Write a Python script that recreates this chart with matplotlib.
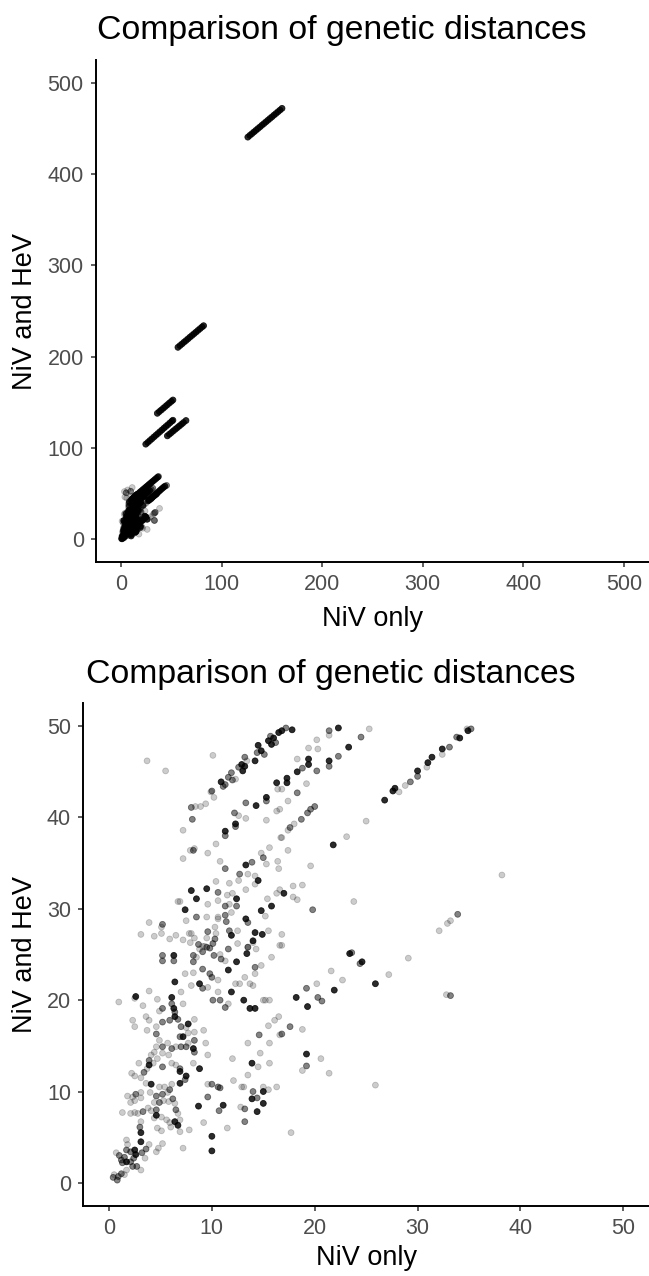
import numpy as np
import matplotlib
matplotlib.use('Agg')
import matplotlib.pyplot as plt

# (NiV only, NiV and HeV, number of overlapping pairs)
upper_left = [
    (3.7, 46.2, 1), (5.5, 45.1, 1), (10.1, 46.8, 1),
    (10.9, 43.9, 8), (11.1, 43.4, 3), (11.3, 43.6, 3), (11.6, 44.4, 3), (11.9, 44.9, 3), (12.0, 44.1, 3),
    (12.3, 44.2, 1), (12.6, 45.5, 3), (12.9, 45.8, 8), (13.0, 45.1, 8), (13.2, 45.6, 8), (13.2, 46.6, 3),
    (13.4, 46.2, 1), (14.2, 46.2, 8), (14.4, 47.1, 3), (14.5, 47.9, 8), (14.8, 47.3, 8), (15.1, 46.9, 3),
    (15.5, 48.4, 8), (15.7, 48.9, 3), (15.8, 48.0, 8), (16.0, 48.7, 8), (16.2, 48.2, 3), (16.5, 49.3, 8),
    (16.8, 49.5, 8), (17.2, 49.8, 3), (17.8, 49.6, 8),
    (10.0, 42.9, 3), (9.9, 42.8, 1), (10.2, 42.2, 1), (8.0, 41.1, 3), (8.4, 41.2, 1), (8.9, 41.2, 1),
    (9.4, 41.5, 1), (8.1, 39.8, 3), (7.2, 38.6, 1), (8.2, 36.4, 3), (8.3, 36.6, 1), (7.2, 35.5, 1),
]

band_b = [
    (16.3, 43.8, 8), (16.4, 43.1, 1), (15.3, 42.2, 8), (15.3, 41.8, 3), (14.3, 41.3, 8), (13.3, 41.6, 3),
    (12.2, 40.5, 3), (12.6, 40.2, 1), (13.3, 39.9, 1), (15.3, 39.7, 1), (16.3, 40.7, 1), (16.6, 40.9, 1),
    (12.3, 39.3, 8), (12.3, 39.0, 3), (11.3, 38.5, 8), (11.3, 38.0, 3), (16.7, 37.8, 1),
    (21.4, 49.5, 3), (21.4, 49.0, 1), (22.3, 49.8, 8), (25.3, 49.7, 1), (20.2, 48.5, 1), (20.3, 47.5, 1),
    (19.4, 47.6, 1), (19.4, 46.4, 8), (19.4, 45.8, 8), (18.3, 46.4, 1), (18.3, 45.0, 8), (18.8, 45.4, 3),
    (17.3, 44.3, 8), (17.3, 43.8, 8), (16.8, 43.1, 1), (17.4, 41.8, 1), (18.3, 42.7, 3), (19.2, 43.7, 1),
    (20.2, 45.1, 3), (21.4, 46.2, 8), (21.4, 45.6, 3), (22.3, 46.7, 3), (23.3, 47.7, 8), (24.5, 48.8, 3),
]

band_c = [
    (20.0, 41.2, 3), (19.6, 40.9, 3), (19.3, 40.5, 3), (18.7, 39.8, 3), (18.0, 39.3, 1), (17.6, 38.9, 3),
    (17.4, 38.6, 1), (16.8, 37.8, 1), (17.4, 36.4, 1), (21.8, 37.0, 8), (23.1, 37.9, 1), (25.0, 39.6, 1),
    (19.6, 34.7, 1), (17.9, 32.5, 1), (18.8, 32.6, 1), (17.0, 31.7, 8), (17.9, 31.3, 1), (18.3, 31.0, 1),
    (19.8, 29.9, 3), (23.8, 30.8, 1), (16.8, 26.0, 1),
]

far_band = [
    (26.8, 41.9, 8), (27.6, 42.9, 8), (27.8, 43.2, 8), (28.2, 42.8, 1), (28.8, 43.5, 1), (29.3, 43.9, 3),
    (30.0, 45.1, 8), (30.0, 44.5, 3), (30.9, 45.5, 1), (31.0, 46.0, 8), (31.4, 46.6, 8), (32.4, 47.5, 8),
    (32.4, 46.9, 1), (33.1, 47.7, 3), (33.8, 48.8, 3), (34.1, 48.7, 8), (34.9, 49.5, 8), (35.2, 49.7, 3),
    (34.8, 49.7, 1),
    (38.2, 33.7, 1), (32.1, 27.6, 1), (32.9, 28.4, 1), (33.2, 28.7, 1), (33.9, 29.4, 3),
]

right_mid = [
    (23.4, 25.1, 8), (23.6, 25.2, 3), (24.6, 24.2, 8), (24.4, 24.0, 3), (29.1, 24.6, 1), (21.6, 23.2, 1),
    (22.7, 22.2, 1), (20.2, 21.8, 1), (19.2, 21.3, 3), (18.2, 20.3, 8), (20.3, 20.3, 3), (20.7, 19.9, 3),
    (19.3, 19.3, 8), (21.9, 21.1, 8), (25.9, 21.8, 8), (27.2, 22.8, 1), (32.8, 20.6, 1), (33.2, 20.5, 3),
    (17.6, 17.1, 3), (18.8, 16.8, 1), (16.8, 16.3, 3), (19.2, 14.1, 8), (20.6, 13.6, 1), (19.2, 12.8, 3),
    (18.8, 12.3, 1), (21.4, 12.0, 1), (25.9, 10.7, 1), (17.7, 5.5, 1),
]

middle = [
    (10.4, 37.1, 1), (7.9, 36.4, 1), (9.6, 36.1, 1), (10.8, 35.2, 1), (11.3, 34.4, 3), (13.3, 34.8, 8),
    (13.9, 35.1, 3), (15.0, 35.6, 3), (15.6, 36.7, 1), (14.8, 36.1, 1), (15.3, 34.9, 1), (16.4, 35.2, 1),
    (16.5, 34.4, 1), (12.7, 33.8, 3), (13.5, 33.8, 1), (14.2, 33.6, 1), (14.5, 33.1, 8), (14.2, 32.7, 1),
    (12.6, 33.1, 1), (11.7, 32.8, 1), (10.4, 33.0, 1), (9.5, 32.2, 8), (8.0, 32.0, 8), (8.5, 31.1, 8),
    (6.9, 30.8, 1), (7.4, 29.9, 8), (7.5, 28.7, 1), (8.5, 29.1, 3), (9.5, 29.1, 1), (9.6, 30.5, 1),
    (10.6, 31.8, 3), (10.6, 30.9, 1), (11.5, 31.5, 1), (12.0, 31.7, 1), (12.4, 31.1, 8), (11.3, 30.3, 3),
    (11.7, 30.5, 1), (12.4, 30.3, 3), (11.9, 29.6, 1), (11.3, 29.3, 3), (10.6, 29.1, 1), (11.4, 28.6, 3),
    (10.4, 27.3, 1), (9.6, 27.5, 3), (9.5, 26.8, 1), (10.3, 26.7, 3), (9.8, 25.7, 3), (8.7, 26.1, 3),
    (8.0, 27.3, 1), (8.3, 26.8, 1), (9.1, 25.9, 1), (11.9, 27.1, 8), (11.7, 27.6, 3), (12.5, 27.6, 1),
    (13.3, 28.9, 8), (13.5, 28.5, 3), (14.2, 27.4, 8), (14.0, 26.5, 8), (14.8, 29.8, 8), (15.4, 31.1, 1),
    (15.8, 30.3, 8), (15.2, 29.2, 1), (15.5, 27.6, 1), (14.9, 27.2, 8), (13.5, 25.8, 3), (14.3, 25.6, 1),
    (12.5, 26.2, 1), (11.6, 25.6, 3), (10.6, 28.9, 1), (10.3, 28.0, 1), (13.3, 32.1, 1), (16.3, 31.7, 1),
    (16.6, 32.1, 1), (6.7, 30.8, 1), (3.9, 28.5, 1), (5.2, 28.3, 3), (5.1, 28.0, 1), (3.1, 27.2, 1),
    (4.4, 27.0, 1), (5.1, 27.3, 1), (6.5, 27.1, 1), (7.8, 27.3, 1), (5.9, 26.7, 1), (7.2, 26.6, 1),
    (7.9, 26.3, 1), (8.8, 25.6, 1), (9.3, 25.9, 1), (16.8, 27.2, 1),
]

lower = [
    (5.2, 24.9, 3), (5.2, 24.3, 3), (6.3, 24.9, 8), (6.3, 24.3, 3), (8.2, 24.9, 3), (8.5, 24.7, 1),
    (9.1, 25.3, 3), (9.5, 25.8, 3), (10.1, 26.2, 3), (10.2, 24.9, 3), (10.9, 24.5, 3), (11.3, 24.3, 1),
    (10.8, 25.0, 1), (11.6, 23.3, 8), (12.4, 24.2, 8), (13.4, 25.1, 8), (13.5, 25.8, 1), (14.0, 26.3, 1),
    (14.2, 23.6, 3), (14.8, 23.8, 1), (15.8, 24.7, 1), (16.6, 26.0, 1), (8.2, 24.2, 3), (7.4, 22.9, 1),
    (8.2, 23.0, 1), (9.1, 23.4, 3), (9.8, 22.9, 3), (10.0, 22.5, 3), (10.6, 22.2, 1), (6.4, 22.0, 8),
    (7.0, 20.9, 1), (8.0, 21.6, 1), (8.8, 21.8, 8), (9.1, 21.3, 3), (9.6, 21.4, 1), (10.1, 20.0, 3),
    (10.6, 20.9, 1), (10.8, 20.0, 3), (11.3, 19.2, 3), (11.6, 19.6, 1), (11.9, 20.9, 8), (12.3, 21.8, 1),
    (12.7, 21.8, 1), (13.1, 20.0, 8), (13.2, 22.5, 1), (13.7, 21.8, 1), (14.0, 21.6, 1), (14.2, 22.9, 1),
    (13.7, 19.1, 8), (14.2, 19.1, 8), (15.0, 20.0, 1), (15.2, 20.0, 1), (15.6, 20.0, 1), (16.5, 18.2, 1),
    (16.1, 17.8, 1), (15.5, 17.2, 1), (14.6, 16.2, 3), (13.5, 15.3, 1), (15.6, 15.3, 1), (14.7, 14.2, 1),
    (13.9, 13.1, 8), (14.5, 12.7, 1), (15.6, 13.1, 1), (13.5, 11.8, 1), (13.1, 10.5, 1), (12.1, 11.2, 1),
    (12.0, 13.6, 1), (15.0, 10.5, 1), (15.0, 10.0, 8), (14.0, 10.0, 3), (14.4, 9.3, 3), (13.9, 9.2, 8),
    (15.0, 8.7, 8), (15.5, 10.2, 1), (16.3, 10.5, 1), (14.4, 7.8, 8), (13.2, 8.1, 3), (12.8, 8.3, 1),
    (13.2, 6.7, 3), (11.5, 6.0, 1), (10.0, 5.1, 8), (10.0, 3.5, 8), (9.2, 6.6, 1), (8.7, 8.4, 8),
    (11.1, 8.5, 8), (10.7, 7.9, 3), (9.6, 9.4, 3), (10.6, 10.5, 3), (10.8, 10.4, 3), (10.0, 10.8, 3),
    (9.6, 10.8, 1), (12.9, 10.5, 1), (16.6, 16.2, 1),
]

left_cluster = [
    (0.95, 19.8, 1), (2.5, 20.2, 1), (2.6, 20.4, 8), (3.3, 19.4, 1), (3.9, 21.0, 1), (4.7, 20.1, 1),
    (4.9, 18.8, 1), (5.2, 19.1, 3), (6.1, 20.3, 8), (6.1, 19.6, 3), (6.3, 19.1, 8), (6.4, 18.7, 3),
    (6.4, 18.2, 8), (5.9, 17.8, 3), (5.2, 17.6, 3), (4.6, 17.1, 1), (4.6, 16.3, 3), (3.7, 16.7, 1),
    (2.3, 17.8, 1), (2.5, 17.1, 1), (3.6, 18.2, 1), (3.9, 17.8, 1), (7.2, 19.6, 1), (6.7, 17.9, 3),
    (7.0, 17.1, 3), (6.9, 16.0, 3), (7.2, 16.0, 8), (7.5, 17.0, 1), (7.7, 17.4, 8), (8.3, 17.9, 1),
    (7.7, 16.4, 1), (8.3, 16.5, 1), (8.3, 15.6, 3), (8.2, 14.7, 8), (8.3, 14.3, 3), (9.2, 16.7, 1),
    (9.4, 15.3, 1), (9.6, 14.0, 1), (7.7, 15.3, 1), (7.5, 14.9, 3), (7.0, 14.9, 3), (6.5, 14.9, 1),
    (6.1, 14.7, 3), (5.7, 15.3, 1), (5.8, 14.0, 1), (5.2, 14.9, 3), (5.2, 14.2, 1), (4.9, 15.6, 1),
    (4.6, 14.9, 1), (4.4, 14.3, 1), (4.1, 14.0, 1), (3.9, 13.4, 3), (3.9, 12.9, 8), (4.3, 13.1, 1),
    (4.7, 13.6, 1), (5.2, 12.7, 3), (6.1, 13.1, 1), (6.5, 12.9, 1), (6.9, 12.2, 8), (6.9, 12.5, 3),
    (7.5, 11.7, 8), (7.4, 11.3, 3), (6.9, 10.9, 8), (8.2, 13.1, 1), (8.8, 12.5, 8), (2.9, 13.1, 1),
    (2.2, 12.0, 1), (2.5, 11.7, 1), (3.1, 11.5, 1), (3.4, 12.1, 3), (3.7, 12.5, 1), (3.6, 10.9, 1),
    (4.1, 10.8, 8), (4.9, 10.5, 1), (5.4, 10.5, 1), (6.1, 10.8, 1), (5.9, 10.2, 3), (5.7, 9.9, 1),
    (5.2, 9.7, 3), (4.6, 9.5, 3), (4.4, 8.8, 1), (4.9, 8.8, 3), (5.3, 9.0, 1), (5.8, 8.9, 1),
    (6.2, 9.2, 3), (6.4, 8.7, 1), (4.0, 9.9, 1), (3.1, 9.9, 1), (2.6, 9.7, 3), (2.3, 9.4, 1),
    (1.8, 9.5, 1), (2.1, 8.8, 1), (2.5, 9.0, 1), (3.1, 9.3, 1), (3.3, 7.8, 3), (2.8, 7.6, 1),
    (2.5, 7.7, 1), (1.3, 7.7, 1), (2.1, 7.6, 1), (3.8, 8.2, 1), (4.1, 7.9, 1), (4.6, 8.0, 3),
    (4.6, 7.4, 8), (4.4, 7.1, 1), (5.1, 7.2, 1), (5.6, 6.9, 1), (6.5, 8.0, 3), (6.7, 7.6, 1),
    (6.9, 6.9, 1), (6.4, 6.7, 8), (6.7, 6.3, 8), (6.0, 6.1, 1), (5.1, 5.7, 1), (4.7, 6.0, 1),
    (3.1, 6.7, 1), (3.0, 6.1, 3), (3.1, 5.5, 8), (5.9, 6.6, 1), (6.9, 5.6, 1), (7.8, 5.8, 1),
    (7.2, 3.8, 1), (5.2, 4.3, 1), (4.8, 3.8, 1), (4.6, 3.4, 1), (3.9, 4.2, 1), (3.1, 4.5, 8),
    (3.6, 3.7, 3), (3.2, 3.3, 3), (2.5, 3.6, 8), (2.6, 3.1, 8), (2.1, 3.4, 3), (1.7, 3.6, 3),
    (1.7, 4.7, 1), (1.8, 4.2, 1), (0.7, 3.3, 1), (1.0, 3.0, 3), (1.2, 2.5, 3), (1.5, 2.8, 3),
    (1.7, 2.3, 8), (2.1, 2.3, 3), (2.4, 2.7, 3), (2.7, 1.8, 3), (3.1, 1.4, 1), (2.3, 1.8, 3),
    (1.3, 2.2, 3), (1.7, 1.4, 1), (1.2, 1.0, 3), (0.9, 0.7, 3), (0.4, 0.6, 3), (0.5, 0.9, 1),
    (0.8, 0.3, 3), (1.5, 0.9, 1), (3.5, 2.7, 1),
]

# pairs only visible on the full-range panel
above_50 = [
    (18.5, 51.3, 8), (20.0, 52.7, 8), (21.5, 54.1, 8), (23.0, 55.5, 8), (24.5, 56.9, 8), (26.0, 58.3, 8),
    (27.5, 59.7, 8), (29.0, 61.1, 8), (30.5, 62.5, 8), (32.0, 63.9, 8), (33.5, 65.3, 8), (35.0, 66.7, 8),
    (36.5, 68.1, 8), (37.2, 68.7, 3), (25.5, 50.5, 8), (27.0, 51.8, 8), (28.5, 53.2, 8), (30.0, 54.5, 3),
    (31.5, 55.8, 3), (22.0, 50.8, 3), (20.0, 50.5, 3), (24.0, 52.5, 3),
    (36.0, 50.8, 8), (37.5, 52.3, 8), (39.0, 53.8, 8), (40.5, 55.3, 8), (42.0, 56.7, 8), (43.5, 58.0, 8),
    (45.2, 58.9, 3), (3.3, 52.2, 1), (5.0, 50.8, 3), (11.0, 56.6, 1), (9.5, 52.5, 3), (6.5, 54.0, 1),
]
seg_105_130 = [
    (24.5, 104.1, 8), (26.5, 106.0, 8), (28.5, 108.0, 8), (30.5, 109.9, 8), (32.5, 111.9, 8),
    (34.5, 113.8, 8), (36.5, 115.7, 8), (38.5, 117.7, 8), (40.5, 119.6, 8), (42.5, 121.6, 8),
    (44.5, 123.5, 8), (46.5, 125.4, 8), (48.5, 127.4, 8), (50.5, 129.3, 8), (51.5, 130.3, 8),
]
seg_113_130 = [
    (46.0, 113.2, 8), (48.0, 115.0, 8), (50.0, 116.8, 8), (52.0, 118.7, 8), (54.0, 120.5, 8),
    (56.0, 122.3, 8), (58.0, 124.1, 8), (60.0, 125.9, 8), (62.0, 127.8, 8), (64.5, 130.0, 8),
]
seg_138_152 = [
    (36.0, 137.9, 8), (38.0, 139.8, 8), (40.0, 141.6, 8), (42.0, 143.5, 8), (44.0, 145.4, 8),
    (46.0, 147.3, 8), (48.0, 149.2, 8), (50.0, 151.0, 8), (51.5, 152.5, 8),
]
seg_210_234 = [
    (56.5, 210.2, 8), (58.5, 212.1, 8), (60.5, 213.9, 8), (62.5, 215.8, 8), (64.5, 217.6, 8),
    (66.5, 219.5, 8), (68.5, 221.4, 8), (70.5, 223.2, 8), (72.5, 225.1, 8), (74.5, 226.9, 8),
    (76.5, 228.8, 8), (78.5, 230.7, 8), (80.5, 232.5, 8), (82.0, 233.9, 8),
]
seg_440_472 = [
    (126.0, 440.5, 8), (128.0, 442.4, 8), (130.0, 444.2, 8), (132.0, 446.1, 8), (134.0, 447.9, 8),
    (136.0, 449.8, 8), (138.0, 451.6, 8), (140.0, 453.5, 8), (142.0, 455.3, 8), (144.0, 457.2, 8),
    (146.0, 459.0, 8), (148.0, 460.9, 8), (150.0, 462.7, 8), (152.0, 464.6, 8), (154.0, 466.4, 8),
    (156.0, 468.3, 8), (158.0, 470.1, 8), (160.0, 472.0, 8),
]

low_groups = [upper_left, band_b, band_c, far_band, right_mid, middle, lower, left_cluster]
high_groups = [above_50, seg_105_130, seg_113_130, seg_138_152, seg_210_234, seg_440_472]

plt.rcParams['font.family'] = ['Liberation Sans', 'DejaVu Sans']

W, H = 649, 1276
fig = plt.figure(figsize=(W / 100, H / 100), dpi=100)


def panel(rect, pts, lim, ticks, title, title_xy, xlab_y):
    ax = fig.add_axes([rect[0] / W, 1 - rect[3] / H, (rect[2] - rect[0]) / W, (rect[3] - rect[1]) / H])
    x, y, k = pts[:, 0], pts[:, 1], pts[:, 2]
    rgba = np.zeros((len(x), 4))
    rgba[:, 3] = 1 - 0.8 ** k
    ax.scatter(x, y, s=18, c=rgba, edgecolors=rgba, linewidths=0.6, clip_on=False)
    ax.set_xlim(lim)
    ax.set_ylim(lim)
    ax.set_xticks(ticks)
    ax.set_yticks(ticks)
    for s in ['top', 'right']:
        ax.spines[s].set_visible(False)
    for s in ['left', 'bottom']:
        ax.spines[s].set_linewidth(1.4)
    ax.tick_params(length=3.8, width=1.1, color='#333333', labelsize=15.5,
                   labelcolor='#4D4D4D', pad=5)
    fig.text(title_xy[0] / W, 1 - title_xy[1] / H, title, fontsize=24.3, ha='left', va='baseline')
    fig.text((rect[0] + rect[2]) / 2 / W, 1 - xlab_y / H, 'NiV only', fontsize=19.5,
             ha='center', va='baseline')
    fig.text(25 / W, 1 - (rect[1] + rect[3]) / 2 / H, 'NiV and HeV', fontsize=19.5,
             rotation=90, ha='center', va='center')
    return ax


all_pts = np.array([p for g in low_groups + high_groups for p in g], dtype=float)
low_pts = np.array([p for g in low_groups for p in g], dtype=float)
low_pts = low_pts[(low_pts[:, 0] <= 50) & (low_pts[:, 1] <= 50)]

panel((96, 60, 649, 562), all_pts, (-25, 525), [0, 100, 200, 300, 400, 500],
      'Comparison of genetic distances', (96.7, 39.3), 626)
panel((83.3, 703.3, 649, 1205.7), low_pts, (-2.5, 52.5), [0, 10, 20, 30, 40, 50],
      'Comparison of genetic distances', (86, 682.7), 1265)

fig.savefig('out.png', dpi=100)
